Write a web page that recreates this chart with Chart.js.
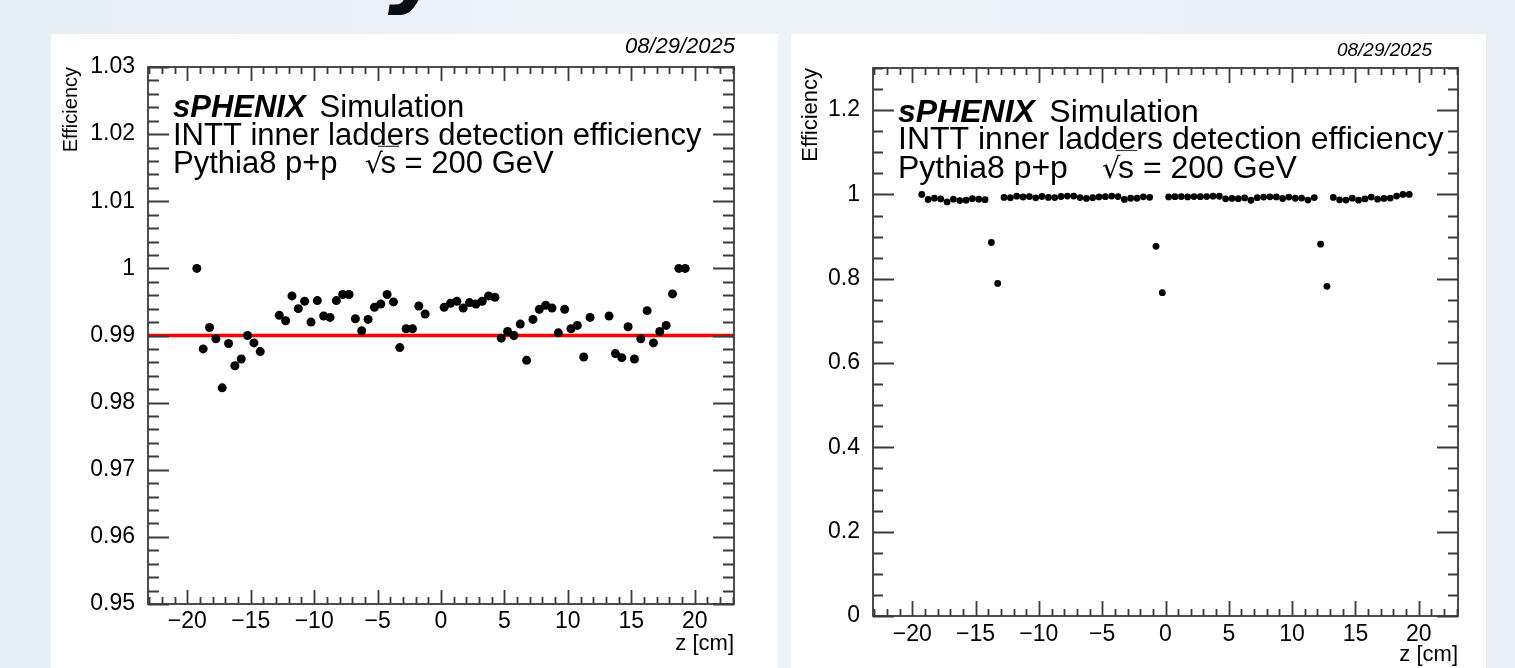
<!DOCTYPE html>
<html>
<head>
<meta charset="utf-8">
<script src="https://cdn.jsdelivr.net/npm/chart.js@4.4.0/dist/chart.umd.min.js"></script>
<style>
body {
    margin: 0;
    width: 1515px;
    height: 668px;
    overflow: hidden;
    position: relative;
    background: linear-gradient(90deg, #e6eef7 0%, #eef3f9 45%, #e8eff7 100%);
    font-family: "Liberation Sans", Arial, sans-serif;
}
.panel { position: absolute; background: #fff; }
#p1 { left: 51px; top: 34px; width: 727px; height: 634px; }
#p2 { left: 791px; top: 34px; width: 695px; height: 634px; }
#glyph {
    position: absolute;
    left: 388px;
    top: -81px;
    font: oblique bold 90px/90px "DejaVu Sans", sans-serif;
    color: #0a0a14;
}
</style>
</head>
<body>
<div id="glyph">y</div>
<div class="panel" id="p1"><canvas id="effZoom" width="727" height="634"></canvas></div>
<div class="panel" id="p2"><canvas id="effFull" width="695" height="634"></canvas></div>
<script>
// bin centres along z [cm] and the efficiency in each bin
var zCenters = [-19.25, -18.75, -18.25, -17.75, -17.25, -16.75, -16.25, -15.75, -15.25, -14.75,
    -14.25, -13.75, -13.25, -12.75, -12.25, -11.75, -11.25, -10.75, -10.25, -9.75,
    -9.25, -8.75, -8.25, -7.75, -7.25, -6.75, -6.25, -5.75, -5.25, -4.75,
    -4.25, -3.75, -3.25, -2.75, -2.25, -1.75, -1.25, -0.75, -0.25, 0.25,
    0.75, 1.25, 1.75, 2.25, 2.75, 3.25, 3.75, 4.25, 4.75, 5.25,
    5.75, 6.25, 6.75, 7.25, 7.75, 8.25, 8.75, 9.25, 9.75, 10.25,
    10.75, 11.25, 11.75, 12.25, 12.75, 13.25, 13.75, 14.25, 14.75, 15.25,
    15.75, 16.25, 16.75, 17.25, 17.75, 18.25, 18.75, 19.25];
var efficiency = [1.000, 0.9880, 0.9912, 0.9895, 0.9822, 0.9888, 0.9855, 0.9865, 0.9900, 0.9889,
    0.9876, 0.886, 0.789, 0.9930, 0.9922, 0.9959, 0.9940, 0.9951, 0.9920, 0.9952,
    0.9929, 0.9927, 0.9952, 0.9961, 0.9961, 0.9925, 0.9907, 0.9924, 0.9942, 0.9947,
    0.9961, 0.9950, 0.9882, 0.9910, 0.9910, 0.9944, 0.9932, 0.877, 0.767, 0.9942,
    0.9948, 0.9951, 0.9941, 0.9949, 0.9947, 0.9951, 0.9959, 0.9957, 0.9896, 0.9906,
    0.9900, 0.9917, 0.9863, 0.9924, 0.9939, 0.9945, 0.9941, 0.9904, 0.9939, 0.9910,
    0.9915, 0.9868, 0.9927, 0.882, 0.782, 0.9929, 0.9873, 0.9867, 0.9913, 0.9865,
    0.9895, 0.9937, 0.9889, 0.9906, 0.9915, 0.9962, 1.000, 1.000];
var fitLevel = 0.99;

var xTickValues = [-20, -15, -10, -5, 0, 5, 10, 15, 20];
var yTicksZoom = [0.95, 0.96, 0.97, 0.98, 0.99, 1.00, 1.01, 1.02, 1.03];
var yTicksFull = [0, 0.2, 0.4, 0.6, 0.8, 1.0, 1.2];
var xRange = [-23.1, 23.1];
var yRangeZoom = [0.95, 1.03];
var yRangeFull = [0, 1.3];

var FONT = '"Liberation Sans", Arial, sans-serif';

function fmtTick(v) {
    var s = String(Math.round(Math.abs(v) * 1000) / 1000);
    return v < 0 ? '\u2212' + s : s;
}

// ROOT style frame: ticks inside on all four sides, plus the labels
var rootStyle = {
    id: 'rootStyle',
    afterDraw: function (chart, args, o) {
        var ctx = chart.ctx;
        var a = chart.chartArea;
        var xs = chart.scales.x, ys = chart.scales.y;
        ctx.save();
        ctx.strokeStyle = '#3a3a3a';
        ctx.lineWidth = 1.8;
        ctx.beginPath();
        for (var v = Math.ceil(xs.min); v <= xs.max; v++) {
            var px = Math.round(xs.getPixelForValue(v)) + 0.5;
            var len = (v % 5 === 0) ? o.xLen[0] : o.xLen[1];
            ctx.moveTo(px, a.bottom); ctx.lineTo(px, a.bottom - len);
            ctx.moveTo(px, a.top); ctx.lineTo(px, a.top + len);
        }
        var n = Math.round((ys.max - ys.min) / o.yStep);
        for (var i = 0; i <= n; i++) {
            var py = Math.round(ys.getPixelForValue(ys.min + i * o.yStep)) + 0.5;
            var l = (i % o.yPerMajor === 0) ? o.yLen[0] : o.yLen[1];
            ctx.moveTo(a.left, py); ctx.lineTo(a.left + l, py);
            ctx.moveTo(a.right, py); ctx.lineTo(a.right - l, py);
        }
        ctx.stroke();
        ctx.strokeRect(a.left, a.top, a.right - a.left, a.bottom - a.top);

        // labels
        var t = o.text;
        ctx.fillStyle = '#000';
        ctx.textBaseline = 'alphabetic';
        ctx.textAlign = 'left';
        ctx.font = 'italic bold ' + t.size + 'px ' + FONT;
        ctx.fillText('sPHENIX', t.x, t.y[0]);
        var w = ctx.measureText('sPHENIX').width;
        ctx.font = t.size + 'px ' + FONT;
        ctx.fillText('Simulation', t.x + w + t.size * 0.45, t.y[0]);
        ctx.fillText('INTT inner ladders detection efficiency', t.x, t.y[1]);
        ctx.fillText('Pythia8 p+p', t.x, t.y[2]);
        ctx.font = (t.size * 0.9) + 'px "DejaVu Sans", ' + FONT;
        ctx.fillText('\u221A', t.x + t.sqrtX, t.y[2]);
        ctx.font = t.size + 'px ' + FONT;
        ctx.fillText('s = 200 GeV', t.x + t.sqrtX + t.size * 0.5, t.y[2]);
        ctx.lineWidth = 1.2;
        ctx.beginPath();
        ctx.moveTo(t.x + t.sqrtX + t.size * 0.42, t.y[2] - t.size * 0.86);
        ctx.lineTo(t.x + t.sqrtX + t.size * 1.1, t.y[2] - t.size * 0.86);
        ctx.stroke();

        ctx.font = 'italic ' + o.date.size + 'px ' + FONT;
        ctx.textAlign = 'right';
        ctx.fillText('08/29/2025', o.date.x, o.date.y);
        ctx.restore();
    }
};

function makeChart(id, cfg) {
    var points = [];
    for (var i = 0; i < zCenters.length; i++) {
        points.push({ x: zCenters[i], y: efficiency[i] });
    }
    var datasets = [{
        label: 'efficiency',
        data: points,
        backgroundColor: '#000',
        borderWidth: 0,
        pointRadius: cfg.radius,
        pointHoverRadius: cfg.radius,
        order: 1
    }];
    if (cfg.fit) {
        datasets.push({
            type: 'line',
            label: 'fit',
            data: [{ x: xRange[0], y: fitLevel }, { x: xRange[1], y: fitLevel }],
            borderColor: '#ff0000',
            borderWidth: 3.5,
            pointRadius: 0,
            order: 2
        });
    }
    var ctx = document.getElementById(id).getContext('2d');
    return new Chart(ctx, {
        type: 'scatter',
        data: { datasets: datasets },
        plugins: [rootStyle],
        options: {
            responsive: false,
            animation: false,
            layout: { padding: { left: 0, top: cfg.padTop, right: cfg.padRight, bottom: 0 } },
            plugins: {
                legend: { display: false },
                tooltip: { enabled: false },
                rootStyle: cfg.style
            },
            scales: {
                x: {
                    type: 'linear',
                    min: xRange[0],
                    max: xRange[1],
                    afterFit: function (s) { s.height = cfg.xHeight; },
                    afterBuildTicks: function (s) { s.ticks = xTickValues.map(function (v) { return { value: v }; }); },
                    grid: { display: false },
                    border: { display: false },
                    ticks: {
                        color: '#000',
                        padding: cfg.xTickPad,
                        maxRotation: 0,
                        autoSkip: false,
                        font: { family: FONT, size: cfg.tickSize },
                        callback: function (v) { return fmtTick(v); }
                    },
                    title: {
                        display: true,
                        text: 'z [cm]',
                        align: 'end',
                        color: '#000',
                        font: { family: FONT, size: cfg.titleSize },
                        padding: { top: 0, bottom: cfg.xTitlePad }
                    }
                },
                y: {
                    type: 'linear',
                    min: cfg.yRange[0],
                    max: cfg.yRange[1],
                    afterFit: function (s) { s.width = cfg.yWidth; },
                    afterBuildTicks: function (s) { s.ticks = cfg.yTicks.map(function (v) { return { value: v }; }); },
                    grid: { display: false },
                    border: { display: false },
                    ticks: {
                        color: '#000',
                        padding: 5,
                        autoSkip: false,
                        font: { family: FONT, size: cfg.tickSize },
                        callback: function (v) { return fmtTick(v); }
                    },
                    title: {
                        display: true,
                        text: 'Efficiency',
                        align: 'end',
                        color: '#000',
                        font: { family: FONT, size: cfg.yTitleSize },
                        padding: { top: cfg.yTitlePad, bottom: 0 }
                    }
                }
            }
        }
    });
}

makeChart('effZoom', {
    fit: true,
    radius: 4.5,
    padTop: 33,
    padRight: 44,
    xHeight: 64,
    yWidth: 97,
    xTickPad: -4,
    tickSize: 23,
    titleSize: 22,
    yTitleSize: 20,
    xTitlePad: 11,
    yTitlePad: 8,
    yRange: yRangeZoom,
    yTicks: yTicksZoom,
    style: {
        xLen: [14, 7],
        yLen: [21, 11],
        yStep: 0.002,
        yPerMajor: 5,
        text: { x: 122, y: [83, 111, 139], size: 31, sqrtX: 192 },
        date: { x: 684, y: 19, size: 22 }
    }
});

makeChart('effFull', {
    fit: false,
    radius: 3.4,
    padTop: 34,
    padRight: 28,
    xHeight: 52,
    yWidth: 82,
    xTickPad: -3,
    tickSize: 23,
    titleSize: 22,
    yTitleSize: 22,
    xTitlePad: 0,
    yTitlePad: 7,
    yRange: yRangeFull,
    yTicks: yTicksFull,
    style: {
        xLen: [15, 7],
        yLen: [21, 10],
        yStep: 0.05,
        yPerMajor: 4,
        text: { x: 107, y: [88, 115, 144], size: 32, sqrtX: 204 },
        date: { x: 641, y: 22, size: 19 }
    }
});
</script>
</body>
</html>
